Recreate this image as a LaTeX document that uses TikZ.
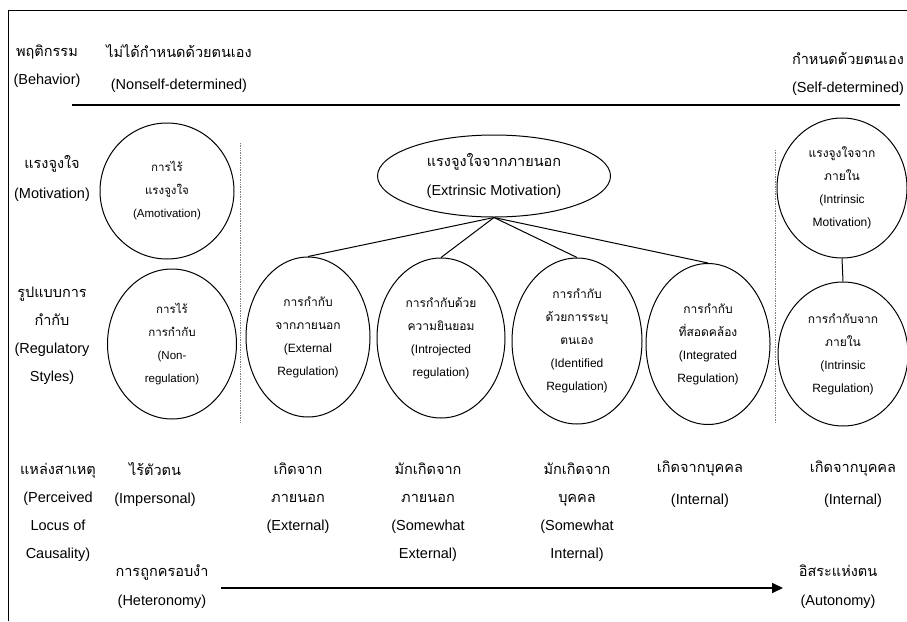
\documentclass[tikz,border=0pt]{standalone}
\usepackage{fontspec}
\setmainfont{Liberation Sans}
\newfontfamily\thaifont[Script=Thai]{Loma}
\usetikzlibrary{shapes.geometric,arrows.meta}
\newcommand\thx[1]{{\thaifont #1}}
\begin{document}
\begin{tikzpicture}[x=1pt,y=-1pt,
  circ/.style={ellipse, draw, line width=1pt, inner sep=0pt, align=center,
    font=\fontsize{12}{23}\selectfont},
  lab/.style={align=center, inner sep=0pt, font=\fontsize{14.5}{28}\selectfont},
  link/.style={line width=1pt},
  sep/.style={densely dotted, gray, line width=0.7pt}]
\useasboundingbox (0,0) rectangle (907,621);
\draw[line width=0.9pt] (8,621) -- (8,10) -- (907,10);
\draw[line width=1.3pt] (72,105) -- (900,105);

% header
\node[lab] (beh) at (47,66) {\thx{พฤติกรรม}\\(Behavior)};
\node[lab, font=\fontsize{14.5}{32}\selectfont] (nsd) at (179,68) {\thx{ไม่ได้กำหนดด้วยตนเอง}\\(Nonself-determined)};
\node[lab] (sd) at (848,74) {\thx{กำหนดด้วยตนเอง}\\(Self-determined)};

% left column
\node[lab, font=\fontsize{14.5}{30}\selectfont] (mot) at (52,178) {\thx{แรงจูงใจ}\\(Motivation)};
\node[lab] (reg) at (52,336) {\thx{รูปแบบการ}\\\thx{กำกับ}\\(Regulatory\\Styles)};
\node[lab] (loc) at (58,512) {\thx{แหล่งสาเหตุ}\\(Perceived\\Locus of\\Causality)};

% separators
\draw[sep] (240,143) -- (240,423);
\draw[sep] (775,150) -- (775,423);

% circles
\node[circ, minimum width=134, minimum height=136, font=\fontsize{11.5}{23}\selectfont] (amo) at (167,191)
  {\thx{การไร้}\\\thx{แรงจูงใจ}\\(Amotivation)};
\node[circ, minimum width=129, minimum height=150, font=\fontsize{11.5}{23}\selectfont] (nonreg) at (172,344)
  {\thx{การไร้}\\\thx{การกำกับ}\\(Non-\\regulation)};
\node[circ, minimum width=233, minimum height=82, font=\fontsize{14.5}{29}\selectfont] (extm) at (494,176)
  {\thx{แรงจูงใจจากภายนอก}\\(Extrinsic Motivation)};
\node[circ, minimum width=124, minimum height=160] (ext) at (308,337)
  {\thx{การกำกับ}\\\thx{จากภายนอก}\\(External\\Regulation)};
\node[circ, minimum width=128, minimum height=160] (intro) at (441,338)
  {\thx{การกำกับด้วย}\\\thx{ความยินยอม}\\(Introjected\\regulation)};
\node[circ, minimum width=130, minimum height=166] (ident) at (577,341)
  {\thx{การกำกับ}\\\thx{ด้วยการระบุ}\\\thx{ตนเอง}\\(Identified\\Regulation)};
\node[circ, minimum width=124, minimum height=161] (integ) at (708,344)
  {\thx{การกำกับ}\\\thx{ที่สอดคล้อง}\\(Integrated\\Regulation)};
\node[circ, minimum width=130, minimum height=140] (intm) at (842,188)
  {\thx{แรงจูงใจจาก}\\\thx{ภายใน}\\(Intrinsic\\Motivation)};
\node[circ, minimum width=130, minimum height=144] (intr) at (843,354)
  {\thx{การกำกับจาก}\\\thx{ภายใน}\\(Intrinsic\\Regulation)};

\draw[link] (extm.south) -- (ext.north);
\draw[link] (extm.south) -- (intro.north);
\draw[link] (extm.south) -- (ident.north);
\draw[link] (extm.south) -- (integ.north);
\draw[link] (intm.south) -- (intr.north);

% bottom row
\node[lab] (imp) at (155,484) {\thx{ไร้ตัวตน}\\(Impersonal)};
\node[lab] (exl) at (298,498) {\thx{เกิดจาก}\\\thx{ภายนอก}\\(External)};
\node[lab] (swe) at (428,512) {\thx{มักเกิดจาก}\\\thx{ภายนอก}\\(Somewhat\\External)};
\node[lab] (swi) at (577,512) {\thx{มักเกิดจาก}\\\thx{บุคคล}\\(Somewhat\\Internal)};
\node[lab, font=\fontsize{14.5}{32}\selectfont] (inl1) at (700,484) {\thx{เกิดจากบุคคล}\\(Internal)};
\node[lab, font=\fontsize{14.5}{32}\selectfont] (inl2) at (853,484) {\thx{เกิดจากบุคคล}\\(Internal)};
\node[lab, font=\fontsize{14.5}{29}\selectfont] (het) at (162,587) {\thx{การถูกครอบงำ}\\(Heteronomy)};
\node[lab, font=\fontsize{14.5}{29}\selectfont] (aut) at (838,587) {\thx{อิสระแห่งตน}\\(Autonomy)};

\coordinate (arrS) at (221,588);
\coordinate (arrE) at (783,588);
\draw[line width=1.6pt, -{Triangle[length=11pt,width=10pt]}] (arrS) -- (arrE);
\end{tikzpicture}
\end{document}
